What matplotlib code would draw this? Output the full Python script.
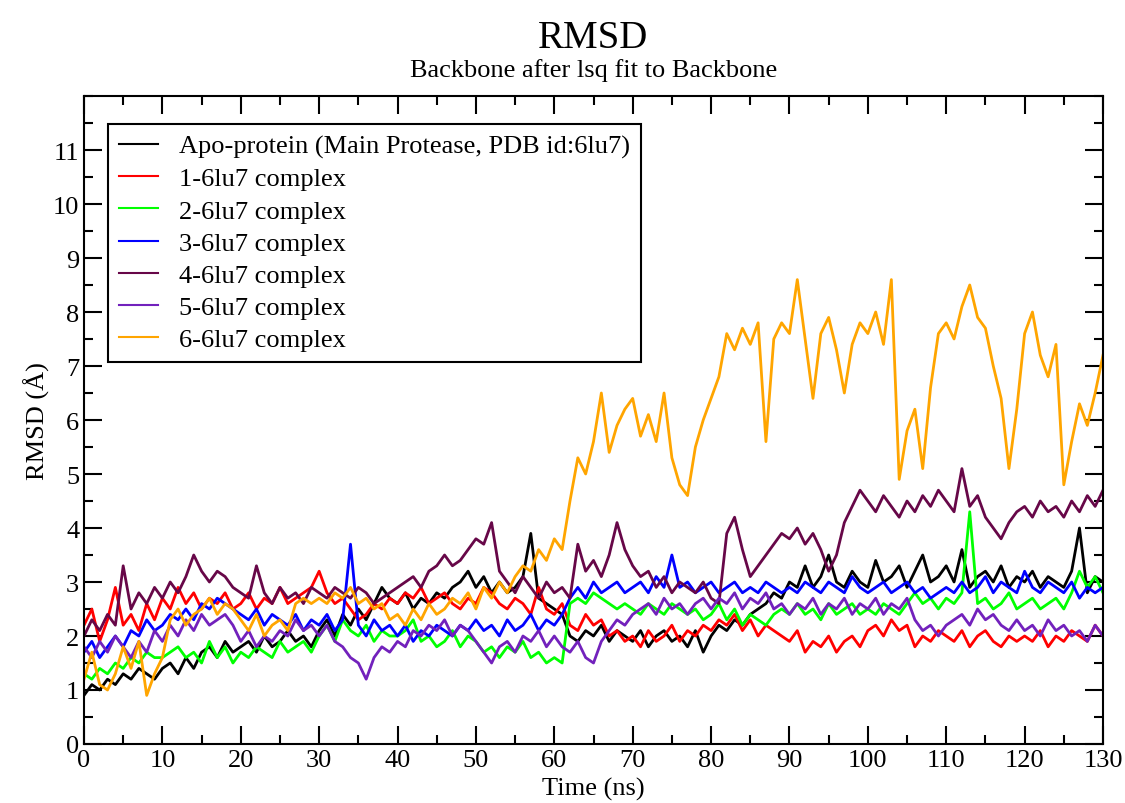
import matplotlib
matplotlib.use('Agg')
import matplotlib.pyplot as plt
import numpy as np
from matplotlib.ticker import MultipleLocator

# Time axis, one sample per ns
time_ns = np.arange(0, 131)

apo = [0.9, 1.1, 1.0, 1.2, 1.1, 1.3, 1.2, 1.4, 1.3, 1.2,
       1.4, 1.5, 1.3, 1.6, 1.4, 1.7, 1.8, 1.6, 1.9, 1.7,
       1.8, 1.9, 1.7, 2.0, 1.8, 1.9, 2.1, 1.9, 2.0, 1.8,
       2.1, 2.3, 2.0, 2.4, 2.2, 2.5, 2.3, 2.6, 2.9, 2.7,
       2.6, 2.8, 2.5, 2.7, 2.6, 2.8, 2.7, 2.9, 3.0, 3.2,
       2.9, 3.1, 2.8, 3.0, 2.8, 2.9, 3.1, 3.9, 2.7, 2.6,
       2.5, 2.4, 2.0, 1.9, 2.1, 2.0, 2.2, 1.9, 2.1, 2.0,
       1.9, 2.1, 1.8, 2.0, 2.1, 1.9, 2.0, 1.8, 2.1, 1.7,
       2.0, 2.2, 2.1, 2.3, 2.2, 2.4, 2.5, 2.6, 2.8, 2.7,
       3.0, 2.9, 3.3, 2.9, 3.1, 3.5, 3.0, 2.9, 3.2, 3.0,
       2.9, 3.4, 3.0, 3.1, 3.3, 2.9, 3.2, 3.5, 3.0, 3.1,
       3.3, 3.0, 3.6, 2.9, 3.1, 3.2, 3.0, 3.3, 2.9, 3.1,
       3.0, 3.2, 2.9, 3.1, 3.0, 2.9, 3.2, 4.0, 2.8, 3.1,
       3.0]

c1 = [2.2, 2.5, 1.9, 2.3, 2.9, 2.2, 2.4, 2.1, 2.6, 2.3,
      2.7, 2.5, 2.9, 2.6, 2.8, 2.5, 2.7, 2.6, 2.8, 2.5,
      2.6, 2.8, 2.5, 2.7, 2.6, 2.9, 2.6, 2.7, 2.8, 2.9,
      3.2, 2.8, 2.6, 2.7, 2.5, 2.3, 2.4, 2.6, 2.5, 2.7,
      2.6, 2.8, 2.7, 2.9, 2.6, 2.7, 2.8, 2.6, 2.5, 2.7,
      2.6, 2.9, 2.8, 2.6, 2.5, 2.7, 2.6, 2.4, 2.9, 2.5,
      2.4, 2.6, 2.2, 2.1, 2.4, 2.2, 2.3, 2.0, 2.1, 1.9,
      2.0, 1.8, 2.1, 1.9, 2.0, 2.2, 1.9, 2.1, 2.0, 2.2,
      2.1, 2.3, 2.2, 2.4, 2.1, 2.3, 2.0, 2.2, 2.1, 2.0,
      1.9, 2.1, 1.7, 1.9, 1.8, 2.0, 1.7, 1.9, 2.0, 1.8,
      2.1, 2.2, 2.0, 2.3, 2.1, 2.2, 1.8, 2.0, 1.9, 2.1,
      2.0, 1.9, 2.1, 1.8, 2.0, 2.1, 1.9, 1.8, 2.0, 1.9,
      2.0, 1.9, 2.1, 1.8, 2.0, 1.9, 2.1, 2.0, 1.9, 2.2,
      2.0]

c2 = [1.3, 1.2, 1.4, 1.3, 1.5, 1.4, 1.6, 1.5, 1.7, 1.6,
      1.6, 1.7, 1.8, 1.6, 1.7, 1.5, 1.9, 1.6, 1.8, 1.5,
      1.7, 1.6, 1.8, 1.7, 1.6, 1.9, 1.7, 1.8, 1.9, 1.7,
      2.0, 2.2, 1.9, 2.3, 2.1, 2.0, 2.2, 1.9, 2.1, 2.0,
      2.0, 2.1, 2.3, 1.9, 2.0, 1.8, 1.9, 2.1, 1.8, 2.0,
      1.9, 1.7, 1.8, 1.6, 1.8, 1.7, 1.9, 1.6, 1.7, 1.5,
      1.6, 1.5, 2.6, 2.7, 2.6, 2.8, 2.7, 2.6, 2.5, 2.6,
      2.5, 2.4, 2.6, 2.5, 2.4, 2.6, 2.5, 2.4, 2.5, 2.3,
      2.4, 2.6, 2.3, 2.5, 2.2, 2.4, 2.3, 2.2, 2.4, 2.5,
      2.4, 2.6, 2.4, 2.5, 2.3, 2.6, 2.4, 2.5, 2.6, 2.4,
      2.5, 2.4, 2.6, 2.5, 2.4, 2.6, 2.8, 2.6, 2.7, 2.5,
      2.7, 2.6, 2.8, 4.3, 2.6, 2.7, 2.5, 2.6, 2.8, 2.5,
      2.6, 2.7, 2.5, 2.6, 2.7, 2.5, 2.8, 3.2, 2.9, 3.1,
      2.8]

c3 = [1.7, 1.9, 1.6, 1.8, 2.0, 1.8, 2.1, 2.0, 2.3, 2.1,
      2.2, 2.4, 2.3, 2.5, 2.3, 2.6, 2.5, 2.7, 2.6, 2.5,
      2.4, 2.3, 2.5, 2.2, 2.4, 2.3, 2.2, 2.4, 2.1, 2.3,
      2.2, 2.4, 2.1, 2.3, 3.7, 2.2, 2.0, 2.3, 2.1, 2.2,
      2.0, 2.2, 1.9, 2.1, 2.0, 2.2, 2.1, 2.0, 2.2, 2.1,
      2.3, 2.1, 2.2, 2.0, 2.3, 2.1, 2.2, 2.4, 2.1, 2.3,
      2.2, 2.4, 2.7, 2.9, 2.7, 3.0, 2.8, 2.9, 3.0, 2.8,
      2.9, 3.0, 2.8, 3.1, 2.9, 3.5, 2.9, 3.0, 2.8, 2.9,
      3.0, 2.8, 2.9, 3.0, 2.8, 2.9, 2.8, 3.0, 2.9, 2.8,
      2.9, 2.8, 3.0, 2.9, 2.8, 3.0, 2.9, 2.8, 3.1, 2.9,
      2.8, 2.9, 3.0, 2.8, 2.9, 3.0, 2.8, 2.9, 2.7, 2.8,
      2.9, 2.8, 3.0, 2.8, 2.9, 3.1, 2.8, 3.0, 2.9, 2.8,
      3.2, 2.9, 2.8, 3.0, 2.9, 2.8, 3.0, 2.7, 2.9, 2.8,
      2.9]

c4 = [2.0, 2.3, 2.1, 2.4, 2.2, 3.3, 2.5, 2.8, 2.6, 2.9,
      2.7, 3.0, 2.8, 3.1, 3.5, 3.2, 3.0, 3.2, 3.1, 2.9,
      2.8, 2.7, 3.3, 2.8, 2.6, 2.9, 2.7, 2.8, 2.6, 2.9,
      2.8, 2.7, 2.9, 2.8, 2.7, 2.9, 2.8, 2.6, 2.7, 2.8,
      2.9, 3.0, 3.1, 2.9, 3.2, 3.3, 3.5, 3.3, 3.4, 3.6,
      3.8, 3.7, 4.1, 3.2, 3.0, 2.8, 3.1, 2.9, 2.7, 3.0,
      2.8, 2.9, 2.7, 3.7, 3.2, 3.4, 3.1, 3.5, 4.1, 3.6,
      3.3, 3.1, 3.2, 2.9, 3.1, 2.8, 3.0, 2.9, 2.8, 3.0,
      2.7, 2.6, 3.9, 4.2, 3.6, 3.1, 3.3, 3.5, 3.7, 3.9,
      3.8, 4.0, 3.7, 3.9, 3.6, 3.2, 3.5, 4.1, 4.4, 4.7,
      4.5, 4.3, 4.6, 4.4, 4.2, 4.5, 4.3, 4.6, 4.4, 4.7,
      4.5, 4.3, 5.1, 4.4, 4.6, 4.2, 4.0, 3.8, 4.1, 4.3,
      4.4, 4.2, 4.5, 4.3, 4.4, 4.2, 4.5, 4.3, 4.6, 4.4,
      4.7]

c5 = [1.8, 1.6, 1.9, 1.7, 2.0, 1.8, 1.6, 1.9, 1.7, 2.1,
      1.9, 2.2, 2.0, 2.3, 2.1, 2.4, 2.2, 2.3, 2.4, 2.2,
      1.9, 2.1, 1.8, 2.0, 1.9, 2.1, 2.0, 2.3, 2.1, 2.2,
      2.0, 2.2, 1.9, 1.8, 1.6, 1.5, 1.2, 1.6, 1.8, 1.7,
      1.9, 1.8, 2.1, 2.0, 2.2, 2.1, 2.3, 2.0, 2.2, 2.1,
      1.9, 1.7, 1.5, 1.8, 1.9, 1.7, 2.0, 1.9, 2.1, 1.8,
      2.0, 1.8, 1.7, 1.9, 1.6, 1.5, 1.9, 2.1, 2.3, 2.2,
      2.4, 2.5, 2.6, 2.4, 2.7, 2.5, 2.6, 2.4, 2.6, 2.7,
      2.5, 2.7, 2.6, 2.8, 2.5, 2.7, 2.6, 2.8, 2.5, 2.6,
      2.4, 2.6, 2.5, 2.7, 2.4, 2.6, 2.5, 2.7, 2.4, 2.6,
      2.5, 2.7, 2.4, 2.6, 2.5, 2.7, 2.3, 2.1, 2.2, 2.0,
      2.2, 2.3, 2.4, 2.2, 2.5, 2.3, 2.4, 2.2, 2.1, 2.3,
      2.1, 2.2, 2.0, 2.3, 2.1, 2.2, 2.0, 2.1, 1.9, 2.2,
      2.0]

c6 = [1.2, 1.7, 1.1, 1.0, 1.3, 1.8, 1.4, 1.9, 0.9, 1.3,
      1.6, 2.3, 2.5, 2.2, 2.4, 2.5, 2.7, 2.4, 2.6, 2.5,
      2.3, 2.1, 2.4, 2.0, 2.2, 2.3, 2.1, 2.6, 2.7, 2.6,
      2.7, 2.6, 2.8, 2.7, 2.9, 2.6, 2.7, 2.5, 2.6, 2.3,
      2.4, 2.2, 2.5, 2.3, 2.6, 2.4, 2.5, 2.7, 2.6, 2.8,
      2.5, 2.9, 2.7, 3.0, 2.8, 3.1, 3.3, 3.2, 3.6, 3.4,
      3.8, 3.6, 4.5, 5.3, 5.0, 5.6, 6.5, 5.4, 5.9, 6.2,
      6.4, 5.7, 6.1, 5.6, 6.5, 5.3, 4.8, 4.6, 5.5, 6.0,
      6.4, 6.8, 7.6, 7.3, 7.7, 7.4, 7.8, 5.6, 7.5, 7.8,
      7.6, 8.6, 7.5, 6.4, 7.6, 7.9, 7.3, 6.5, 7.4, 7.8,
      7.6, 8.0, 7.4, 8.6, 4.9, 5.8, 6.2, 5.1, 6.6, 7.6,
      7.8, 7.5, 8.1, 8.5, 7.9, 7.7, 7.0, 6.4, 5.1, 6.2,
      7.6, 8.0, 7.2, 6.8, 7.4, 4.8, 5.6, 6.3, 5.9, 6.5,
      7.2]

labels = ['Apo-protein (Main Protease, PDB id:6lu7)', '1-6lu7 complex',
          '2-6lu7 complex', '3-6lu7 complex', '4-6lu7 complex',
          '5-6lu7 complex', '6-6lu7 complex']
colors = ['#000000', '#ff0000', '#00ff00', '#0000ff', '#670748', '#7221bc', '#ffa500']

plt.rcParams['font.family'] = ['Liberation Serif', 'DejaVu Serif']

fig = plt.figure(figsize=(11.25, 8.04), dpi=100)
ax = fig.add_axes([84 / 1125, 1 - 745 / 804, 1019 / 1125, 648 / 804])

for ys, lab, col in zip([apo, c1, c2, c3, c4, c5, c6], labels, colors):
    ax.plot(time_ns, ys, color=col, lw=2.0, label=lab)

ax.set_xlim(0, 130)
ax.set_ylim(0, 12)
ax.set_yticks(range(0, 12))
ax.xaxis.set_major_locator(MultipleLocator(10))
ax.xaxis.set_minor_locator(MultipleLocator(5))
ax.yaxis.set_minor_locator(MultipleLocator(0.5))
ax.tick_params(which='both', direction='in', top=True, right=True, width=1.5, labelsize=19)
ax.tick_params(which='major', length=13)
ax.tick_params(which='minor', length=6.5)
for sp in ax.spines.values():
    sp.set_linewidth(1.5)

ax.set_xlabel('Time (ns)', fontsize=19, labelpad=4)
ax.set_ylabel('RMSD (Å)', fontsize=19, labelpad=2)

fig.text(0.5275, 1 - 39 / 804, 'RMSD', fontsize=28, ha='center', va='center')
fig.text(0.5275, 1 - 71 / 804, 'Backbone after lsq fit to Backbone', fontsize=19, ha='center', va='center')

leg = ax.legend(loc='upper left', bbox_to_anchor=(0.0236, 0.957), borderaxespad=0,
                fontsize=19, handlelength=1.5, handletextpad=0.8, labelspacing=0.33,
                fancybox=False, framealpha=1, edgecolor='black', borderpad=0.4)
leg.get_frame().set_linewidth(1.5)
for h in leg.get_lines():
    h.set_linewidth(1.5)

fig.savefig('out.png', dpi=100)
